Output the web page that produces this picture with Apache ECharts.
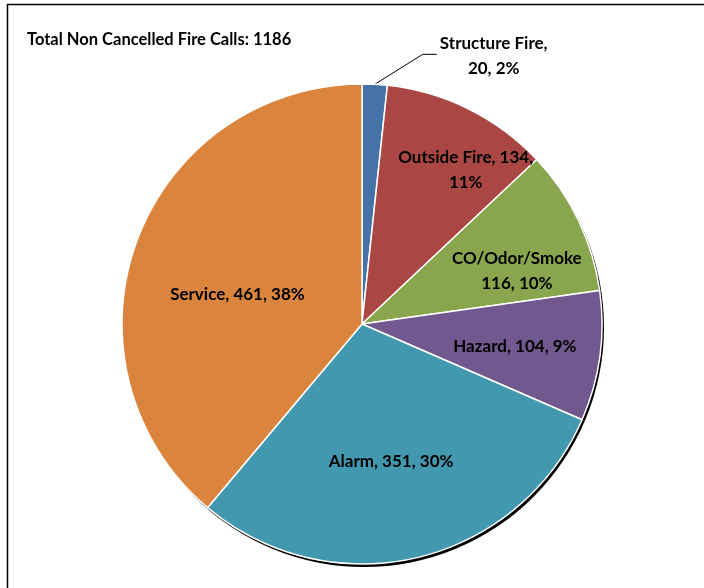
<!DOCTYPE html>
<html>
<head>
<meta charset="utf-8">
<title>Total Non Cancelled Fire Calls</title>
<script src="https://cdn.jsdelivr.net/npm/echarts@6/dist/echarts.min.js"></script>
<style>
  html, body { margin: 0; padding: 0; background: #fff; }
  #chart { width: 704px; height: 588px; }
</style>
</head>
<body>
<div id="chart"></div>
<script>
// Fire call categories, in clockwise order from 12 o'clock
const categories = ['Structure Fire', 'Outside Fire', 'CO/Odor/Smoke', 'Hazard', 'Alarm', 'Service'];
const calls = [20, 134, 116, 104, 351, 461];
const percentLabels = [2, 11, 10, 9, 30, 38];
const sliceColors = ['#4572A7', '#AA4643', '#89A54E', '#71588F', '#4198AF', '#DB843D'];
const chartTitle = 'Total Non Cancelled Fire Calls: 1186';

const FONT = 'Lato, "Open Sans", sans-serif';
const CENTER = [362, 324];
const RADIUS = 240;

// Label text, with each category's own line break
function labelText(i) {
  const n = categories[i], v = calls[i], p = percentLabels[i] + '%';
  switch (i) {
    case 0: return n + ',\n' + v + ', ' + p;
    case 1: return n + ', ' + v + ',\n' + p;
    case 2: return n + '\n' + v + ', ' + p;
    default: return n + ', ' + v + ', ' + p;
  }
}

// Nudges for the labels drawn inside the slices
const insideNudge = [null, [49, -44], [44, 0], [31, 6], [1, 18], [-9, 13]];

const chart = echarts.init(document.getElementById('chart'), null, { renderer: 'canvas' });

chart.setOption({
  backgroundColor: '#fff',
  animation: false,
  title: {
    text: chartTitle,
    left: 27,
    top: 31,
    padding: 0,
    textStyle: { fontFamily: FONT, fontWeight: 'bold', fontSize: 16.5, color: '#000' }
  },
  graphic: [{
    type: 'polyline',
    silent: true,
    shape: { points: [[7.5, 588], [7.5, 4.5], [704, 4.5]] },
    style: { stroke: '#000', lineWidth: 1.5, fill: null }
  }],
  series: [
    {
      // drop shadow under the pie
      type: 'pie',
      silent: true,
      center: [CENTER[0] + 2, CENTER[1] + 3],
      radius: RADIUS,
      label: { show: false },
      labelLine: { show: false },
      itemStyle: { color: '#000' },
      data: [{ value: 1, name: 'shadow' }],
      z: 1
    },
    {
      type: 'pie',
      center: CENTER,
      radius: RADIUS,
      startAngle: 90,
      clockwise: true,
      avoidLabelOverlap: false,
      z: 2,
      itemStyle: { borderColor: '#fff', borderWidth: 1.5 },
      label: {
        show: true,
        position: 'inside',
        color: '#000',
        fontFamily: FONT,
        fontWeight: 'bold',
        fontSize: 17,
        lineHeight: 25,
        align: 'center',
        formatter: p => labelText(p.dataIndex)
      },
      labelLine: { show: false },
      labelLayout: function (params) {
        const i = params.dataIndex;
        if (i === 0 && params.labelLinePoints) {
          const p0 = params.labelLinePoints[0];
          return {
            x: p0[0] + 119,
            y: p0[1] - 28,
            align: 'center',
            verticalAlign: 'middle',
            labelLinePoints: [p0, [p0[0] + 48, p0[1] - 30], [p0[0] + 62, p0[1] - 30]]
          };
        }
        const nd = insideNudge[i];
        return nd ? { dx: nd[0], dy: nd[1] } : {};
      },
      data: categories.map((name, i) => {
        const item = { name, value: calls[i], itemStyle: { color: sliceColors[i] } };
        if (i === 0) {
          item.label = { position: 'outside' };
          item.labelLine = { show: true, length: 10, length2: 10, lineStyle: { color: '#000', width: 1 } };
        }
        return item;
      })
    }
  ]
});
</script>
</body>
</html>
